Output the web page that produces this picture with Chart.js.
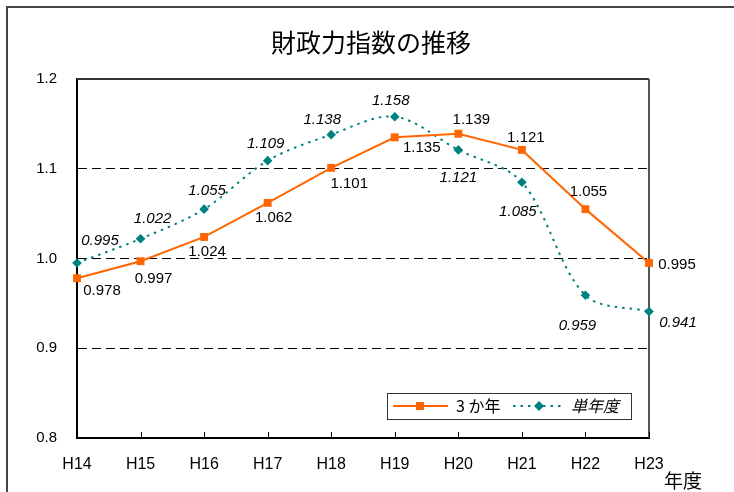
<!DOCTYPE html>
<html lang="ja">
<head>
<meta charset="utf-8">
<title>財政力指数の推移</title>
<script src="https://cdn.jsdelivr.net/npm/chart.js@4.4.1/dist/chart.umd.min.js"></script>
<style>
  html, body { margin: 0; padding: 0; background: #fff; overflow: hidden; }
  #wrap { position: relative; width: 734px; height: 492px; }
  #frame { position: absolute; left: 6px; top: 6px; width: 800px; height: 600px; border: 2px solid #444; box-sizing: border-box; }
  canvas { position: absolute; left: 0; top: 0; }
</style>
</head>
<body>
<div id="wrap">
  <div id="frame"></div>
  <canvas id="fiscalChart" width="734" height="492"></canvas>
</div>
<script>
const years = ['H14', 'H15', 'H16', 'H17', 'H18', 'H19', 'H20', 'H21', 'H22', 'H23'];
const threeYear = [0.978, 0.997, 1.024, 1.062, 1.101, 1.135, 1.139, 1.121, 1.055, 0.995];
const singleYear = [0.995, 1.022, 1.055, 1.109, 1.138, 1.158, 1.121, 1.085, 0.959, 0.941];
const yTicks = [0.8, 0.9, 1.0, 1.1, 1.2];

// where each value label sits relative to its point (dx, dy)
const offsetsThree = [[25, 13], [13, 18], [3, 15], [6, 15], [18, 16], [27, 11], [13, -14], [4, -12], [3, -17], [28, 2]];
const offsetsSingle = [[23, -22], [12, -20], [3, -18], [-2, -17], [-9, -15], [-4, -16], [0, 28], [-4, 30], [-8, 31], [29, 11]];

const ORANGE = '#FF6600';
const TEAL = '#008080';
const LATIN = '"Liberation Sans", Arial, sans-serif';
const CJK = '"Noto Sans CJK JP", "Noto Sans", sans-serif';

const decorations = {
  id: 'decorations',
  beforeDatasetsDraw(chart) {
    const { ctx, chartArea: a, scales: { x } } = chart;
    ctx.save();
    // top and right frame of the plot
    ctx.strokeStyle = '#333';
    ctx.lineWidth = 2;
    ctx.beginPath();
    ctx.moveTo(a.left, a.top);
    ctx.lineTo(a.right, a.top);
    ctx.stroke();
    ctx.strokeStyle = '#555';
    ctx.beginPath();
    ctx.moveTo(a.right, a.top);
    ctx.lineTo(a.right, a.bottom);
    ctx.stroke();
    // small tick marks pointing into the plot
    ctx.strokeStyle = '#000';
    ctx.lineWidth = 1;
    years.forEach((y, i) => {
      const px = Math.round(x.getPixelForValue(i)) + 0.5;
      ctx.beginPath();
      ctx.moveTo(px, a.bottom);
      ctx.lineTo(px, a.bottom - 6);
      ctx.stroke();
    });
    ctx.restore();
  },
  afterDatasetsDraw(chart) {
    const ctx = chart.ctx;
    ctx.save();
    ctx.textAlign = 'center';
    ctx.textBaseline = 'middle';
    ctx.fillStyle = '#000';
    const sets = [[0, offsetsThree, '15px ' + LATIN], [1, offsetsSingle, 'italic 15px ' + LATIN]];
    sets.forEach(([di, offs, font]) => {
      const meta = chart.getDatasetMeta(di);
      const vals = chart.data.datasets[di].data;
      ctx.font = font;
      meta.data.forEach((pt, j) => {
        ctx.fillText(vals[j].toFixed(3), pt.x + offs[j][0], pt.y + offs[j][1]);
      });
    });
    ctx.restore();
  },
  afterDraw(chart) {
    const ctx = chart.ctx;
    ctx.save();
    // title
    ctx.fillStyle = '#000';
    ctx.textAlign = 'center';
    ctx.textBaseline = 'middle';
    ctx.font = '25px ' + CJK;
    ctx.fillText('財政力指数の推移', 371, 42);
    // axis caption
    ctx.font = '19px ' + CJK;
    ctx.fillText('年度', 683, 481);

    // legend box
    ctx.fillStyle = '#fff';
    ctx.fillRect(387, 393, 244, 26);
    ctx.strokeStyle = '#333';
    ctx.lineWidth = 1;
    ctx.strokeRect(387.5, 393.5, 244, 26);

    const ly = 406;
    ctx.strokeStyle = ORANGE;
    ctx.lineWidth = 2;
    ctx.beginPath();
    ctx.moveTo(393, ly);
    ctx.lineTo(448, ly);
    ctx.stroke();
    ctx.fillStyle = ORANGE;
    ctx.fillRect(416, ly - 4, 8, 8);

    ctx.strokeStyle = TEAL;
    ctx.setLineDash([2.5, 5]);
    ctx.beginPath();
    ctx.moveTo(513, ly);
    ctx.lineTo(564, ly);
    ctx.stroke();
    ctx.setLineDash([]);
    ctx.fillStyle = TEAL;
    ctx.beginPath();
    ctx.moveTo(539, ly - 5);
    ctx.lineTo(544, ly);
    ctx.lineTo(539, ly + 5);
    ctx.lineTo(534, ly);
    ctx.closePath();
    ctx.fill();

    ctx.fillStyle = '#000';
    ctx.textAlign = 'left';
    ctx.font = '16px ' + CJK;
    ctx.fillText('3 か年', 456, ly);
    ctx.font = 'italic 16px ' + CJK;
    ctx.fillText('単年度', 571, ly);
    ctx.restore();
  }
};

new Chart(document.getElementById('fiscalChart'), {
  type: 'line',
  data: {
    labels: years,
    datasets: [
      {
        label: '3か年',
        data: threeYear,
        borderColor: ORANGE,
        backgroundColor: ORANGE,
        borderWidth: 2,
        pointStyle: 'rect',
        pointRadius: 5.6,
        pointBorderWidth: 0,
        tension: 0,
        clip: false
      },
      {
        label: '単年度',
        data: singleYear,
        borderColor: TEAL,
        backgroundColor: TEAL,
        borderWidth: 2,
        borderDash: [2.5, 5],
        pointStyle: 'rectRot',
        pointRadius: 4.8,
        pointBorderWidth: 0,
        tension: 0.33,
        clip: false
      }
    ]
  },
  options: {
    responsive: false,
    animation: false,
    events: [],
    layout: { padding: { top: 79, right: 85, bottom: 0, left: 0 } },
    plugins: {
      legend: { display: false },
      title: { display: false },
      tooltip: { enabled: false }
    },
    scales: {
      x: {
        type: 'category',
        offset: false,
        grid: { display: false, drawTicks: false },
        border: { color: '#000', width: 2 },
        ticks: { color: '#000', font: { family: LATIN, size: 16 }, padding: 17, maxRotation: 0, autoSkip: false },
        afterFit(scale) { scale.height = 54; }
      },
      y: {
        min: 0.8,
        max: 1.2,
        afterBuildTicks(scale) { scale.ticks = yTicks.map(v => ({ value: v })); },
        grid: {
          drawTicks: false,
          lineWidth: 1,
          color: ctx => (ctx.tick && (ctx.tick.value <= 0.8001 || ctx.tick.value >= 1.1999)) ? 'rgba(0,0,0,0)' : '#000'
        },
        border: { color: '#000', width: 2, dash: [9, 5] },
        ticks: {
          color: '#000',
          font: { family: LATIN, size: 15 },
          padding: 20,
          callback: v => v.toFixed(1)
        },
        afterFit(scale) { scale.width = 77; }
      }
    }
  },
  plugins: [decorations]
});
</script>
</body>
</html>
